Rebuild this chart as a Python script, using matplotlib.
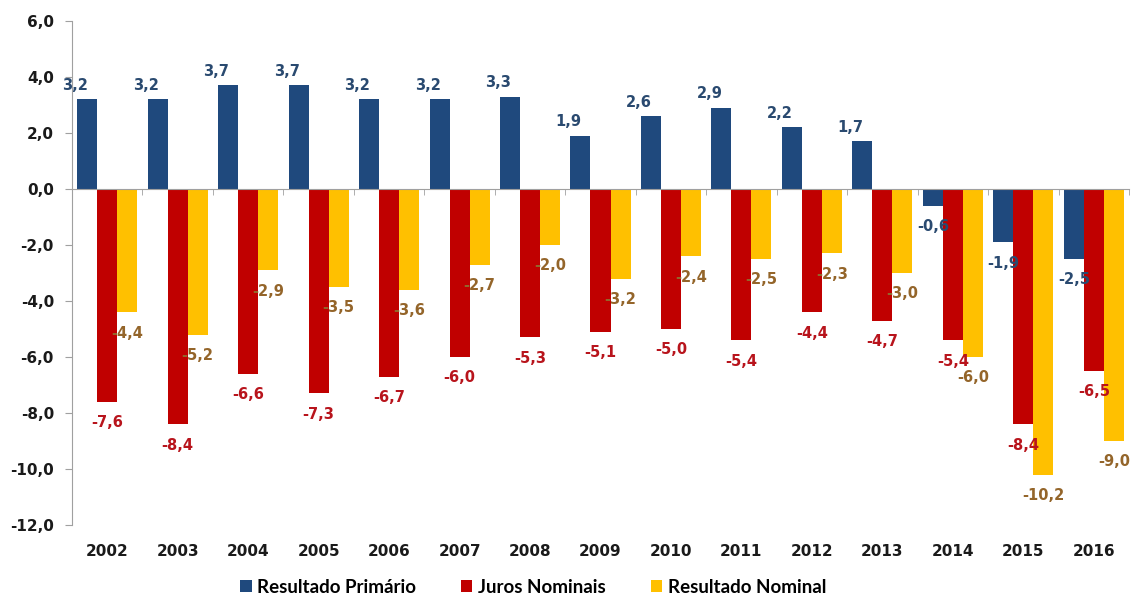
import numpy as np
import matplotlib.pyplot as plt

years = ["2002", "2003", "2004", "2005", "2006", "2007", "2008", "2009",
         "2010", "2011", "2012", "2013", "2014", "2015", "2016"]
primario = [3.2, 3.2, 3.7, 3.7, 3.2, 3.2, 3.3, 1.9, 2.6, 2.9, 2.2, 1.7, -0.6, -1.9, -2.5]
juros = [-7.6, -8.4, -6.6, -7.3, -6.7, -6.0, -5.3, -5.1, -5.0, -5.4, -4.4, -4.7, -5.4, -8.4, -6.5]
nominal = [-4.4, -5.2, -2.9, -3.5, -3.6, -2.7, -2.0, -3.2, -2.4, -2.5, -2.3, -3.0, -6.0, -10.2, -9.0]

series = [
    ("Resultado Primário", primario, "#1f497d", "#2a4a70"),
    ("Juros Nominais", juros, "#c00000", "#b8141c"),
    ("Resultado Nominal", nominal, "#ffc000", "#94652a"),
]


def fmt(v):
    return f"{v:.1f}".replace(".", ",")


fig = plt.figure(figsize=(11.32, 5.97), dpi=100)
ax = fig.add_axes([72 / 1132, 1 - 525 / 597, (1129 - 72) / 1132, 504 / 597])

x = np.arange(len(years))
w = 0.284

for i, (name, vals, color, lcolor) in enumerate(series):
    xs = x + (i - 1) * w
    ax.bar(xs, vals, width=w, color=color, label=name, zorder=2)
    for xi, v in zip(xs, vals):
        if v >= 0:
            off = (-8.5, 10)
        else:
            off = (0, -15)
        ax.annotate(fmt(v), (xi, v), xytext=off, textcoords="offset points",
                    ha="center", va="center", fontsize=10.5, fontweight="bold",
                    color=lcolor, family="DejaVu Sans", zorder=3)

ax.set_xlim(-0.5, len(years) - 0.5)
ax.set_ylim(-12, 6)
yt = np.arange(-12, 6.1, 2)
ax.set_yticks(yt)
ax.set_yticklabels([fmt(t) for t in yt], fontsize=11, fontweight="bold", color="#1a1a1a")
ax.tick_params(axis="y", length=5, color="#a0a0a0", pad=8)

# category axis line sits at zero, ticks between categories
ax.spines["bottom"].set_position(("data", 0))
ax.spines["bottom"].set_color("#a0a0a0")
ax.spines["left"].set_color("#a0a0a0")
ax.spines["top"].set_visible(False)
ax.spines["right"].set_visible(False)
ax.set_xticks(x)
ax.set_xticklabels([])
ax.tick_params(axis="x", which="major", length=0)
ax.set_xticks(np.arange(-0.5, len(years), 1), minor=True)
ax.tick_params(axis="x", which="minor", length=4, color="#a0a0a0", direction="out")

sec = ax.secondary_xaxis("bottom")
sec.set_xticks(x)
sec.set_xticklabels(years, fontsize=11, fontweight="bold", color="#1a1a1a")
sec.tick_params(length=0, pad=14)
sec.spines["bottom"].set_visible(False)

fig.legend(loc="center", bbox_to_anchor=(0.471, 0.016), ncol=3, frameon=False,
           handlelength=0.6, handleheight=0.6, handletextpad=0.3, columnspacing=2.4,
           prop={"family": "Lato", "weight": "bold", "size": 13.5})

fig.savefig("out.png", dpi=100)
